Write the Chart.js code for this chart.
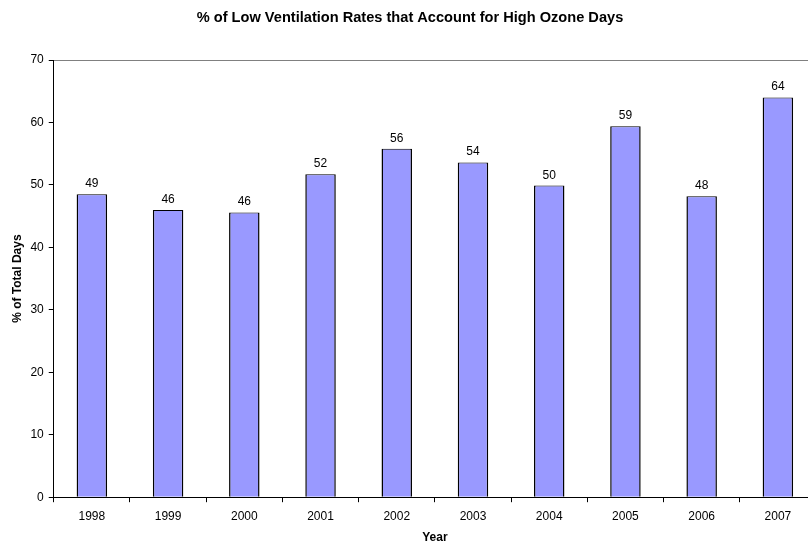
<!DOCTYPE html>
<html lang="en">
<head>
    <meta charset="UTF-8">
    <title>Low Ventilation Rates and High Ozone Days</title>
    <script src="https://cdn.jsdelivr.net/npm/chart.js"></script>
    <style>
        html, body { margin: 0; padding: 0; background: #fff; overflow: hidden; }
        #wrap { width: 808px; height: 544px; overflow: hidden; }
    </style>
</head>
<body>
    <div id="wrap"><canvas id="ozoneChart" width="828" height="546"></canvas></div>

    <script>
        // Yearly share of high ozone days that fell on low ventilation days
        var years = ['1998', '1999', '2000', '2001', '2002', '2003', '2004', '2005', '2006', '2007'];
        var percentDays = [48.5, 46.0, 45.6, 51.7, 55.8, 53.6, 49.9, 59.4, 48.2, 64.0];
        var yTicks = [0, 10, 20, 30, 40, 50, 60, 70];

        var fontFamily = '"Liberation Sans", Arial, sans-serif';

        // writes the rounded value above each bar
        var barLabels = {
            id: 'barLabels',
            afterDatasetsDraw: function (chart) {
                var ctx = chart.ctx;
                var meta = chart.getDatasetMeta(0);
                ctx.save();
                ctx.font = '12px ' + fontFamily;
                ctx.fillStyle = '#000';
                ctx.textAlign = 'center';
                ctx.textBaseline = 'alphabetic';
                meta.data.forEach(function (bar, i) {
                    ctx.fillText(Math.round(percentDays[i]), bar.x, bar.y - 7);
                });
                ctx.restore();
            }
        };

        var ctx = document.getElementById('ozoneChart').getContext('2d');
        var ozoneChart = new Chart(ctx, {
            type: 'bar',
            data: {
                labels: years,
                datasets: [{
                    data: percentDays,
                    backgroundColor: '#9999FF',
                    borderColor: '#000',
                    borderWidth: { top: 1, left: 1.5, right: 1.5, bottom: 0 },
                    borderSkipped: false,
                    inflateAmount: 0,
                    barPercentage: 0.4,
                    categoryPercentage: 1.0
                }]
            },
            options: {
                responsive: false,
                animation: false,
                layout: {
                    padding: { left: 4, right: 12, top: 0, bottom: 0 }
                },
                plugins: {
                    legend: { display: false },
                    tooltip: { enabled: false },
                    title: {
                        display: true,
                        text: '% of Low Ventilation Rates that Account for High Ozone Days',
                        color: '#000',
                        font: { family: fontFamily, size: 14.6, weight: 'bold' },
                        padding: { top: 9, bottom: 33.5 }
                    }
                },
                scales: {
                    x: {
                        grid: {
                            offset: true,
                            drawOnChartArea: false,
                            tickLength: 5,
                            tickColor: '#000'
                        },
                        border: { color: '#000', width: 1 },
                        ticks: {
                            color: '#000',
                            padding: 7,
                            maxRotation: 0,
                            font: { family: fontFamily, size: 12 }
                        },
                        title: {
                            display: true,
                            text: 'Year',
                            color: '#000',
                            font: { family: fontFamily, size: 12, weight: 'bold' },
                            padding: { top: 0, bottom: 1 }
                        }
                    },
                    y: {
                        min: 0,
                        max: 70,
                        afterBuildTicks: function (axis) {
                            axis.ticks = yTicks.map(function (v) { return { value: v }; });
                        },
                        grid: {
                            color: function (c) {
                                return c.tick && c.tick.value === 70 ? '#808080' : 'rgba(0,0,0,0)';
                            },
                            tickLength: 5,
                            tickColor: '#000'
                        },
                        border: { color: '#000', width: 1 },
                        ticks: {
                            color: '#000',
                            padding: 5,
                            font: { family: fontFamily, size: 12 }
                        },
                        title: {
                            display: true,
                            text: '% of Total Days',
                            color: '#000',
                            font: { family: fontFamily, size: 12, weight: 'bold' },
                            padding: { top: 6, bottom: 1 }
                        }
                    }
                }
            },
            plugins: [barLabels]
        });
    </script>
</body>
</html>
